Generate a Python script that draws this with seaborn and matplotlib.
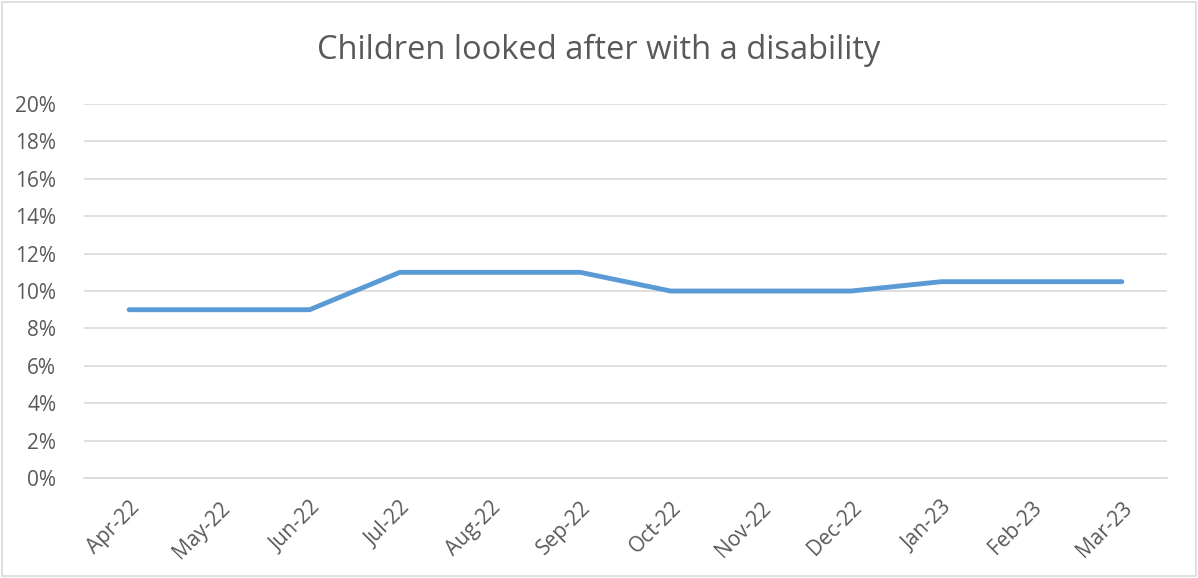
import matplotlib
matplotlib.use("Agg")
import matplotlib.pyplot as plt
from matplotlib.patches import Rectangle
from matplotlib.ticker import FuncFormatter
import seaborn as sns
import pandas as pd

months = ["Apr-22", "May-22", "Jun-22", "Jul-22", "Aug-22", "Sep-22",
          "Oct-22", "Nov-22", "Dec-22", "Jan-23", "Feb-23", "Mar-23"]
disability_pct = [0.09, 0.09, 0.09, 0.11, 0.11, 0.11,
                  0.10, 0.10, 0.10, 0.105, 0.105, 0.105]

sns.set_theme(style="white")
plt.rcParams["font.family"] = ["Open Sans", "DejaVu Sans"]

text_col = "#595959"
grid_col = "#D9D9D9"
line_col = "#5B9BD5"

df = pd.DataFrame({"pos": range(len(months)), "value": disability_pct})

fig = plt.figure(figsize=(11.98, 5.78), dpi=100)
ax = fig.add_axes([0.0701, 0.173, 0.904, 0.647])

sns.lineplot(data=df, x="pos", y="value", ax=ax, color=line_col,
             linewidth=3.5, solid_capstyle="round", solid_joinstyle="round")

ax.set_xlim(-0.5, len(months) - 0.5)
ax.set_ylim(0, 0.20)
ax.set_yticks([i / 100 for i in range(0, 21, 2)])
ax.yaxis.set_major_formatter(FuncFormatter(lambda v, _: f"{round(v * 100)}%"))
ax.grid(axis="y", color=grid_col, linewidth=1.2)
ax.set_axisbelow(True)

ax.set_xticks(range(len(months)))
ax.set_xticklabels(months, rotation=45, ha="right", rotation_mode="anchor")
ax.set_xticks([i - 0.5 for i in range(len(months) + 1)], minor=True)
ax.tick_params(axis="x", which="major", length=0, pad=14,
               labelsize=15, labelcolor=text_col)
ax.tick_params(axis="x", which="minor", length=6, width=1.2, color=grid_col)
ax.tick_params(axis="y", length=0, pad=20, labelsize=15, labelcolor=text_col)

for side in ["left", "right", "top"]:
    ax.spines[side].set_visible(False)
ax.spines["bottom"].set_color(grid_col)
ax.spines["bottom"].set_linewidth(1.2)

ax.set_xlabel("")
ax.set_ylabel("")

fig.text(0.5, 0.912, "Children looked after with a disability",
         ha="center", va="center", fontsize=23.5, color=text_col)

fig.patches.append(Rectangle((0.002, 0.003), 0.996, 0.994, transform=fig.transFigure,
                             fill=False, edgecolor=grid_col, linewidth=1.2))

fig.savefig("out.png", dpi=100, facecolor="white")
